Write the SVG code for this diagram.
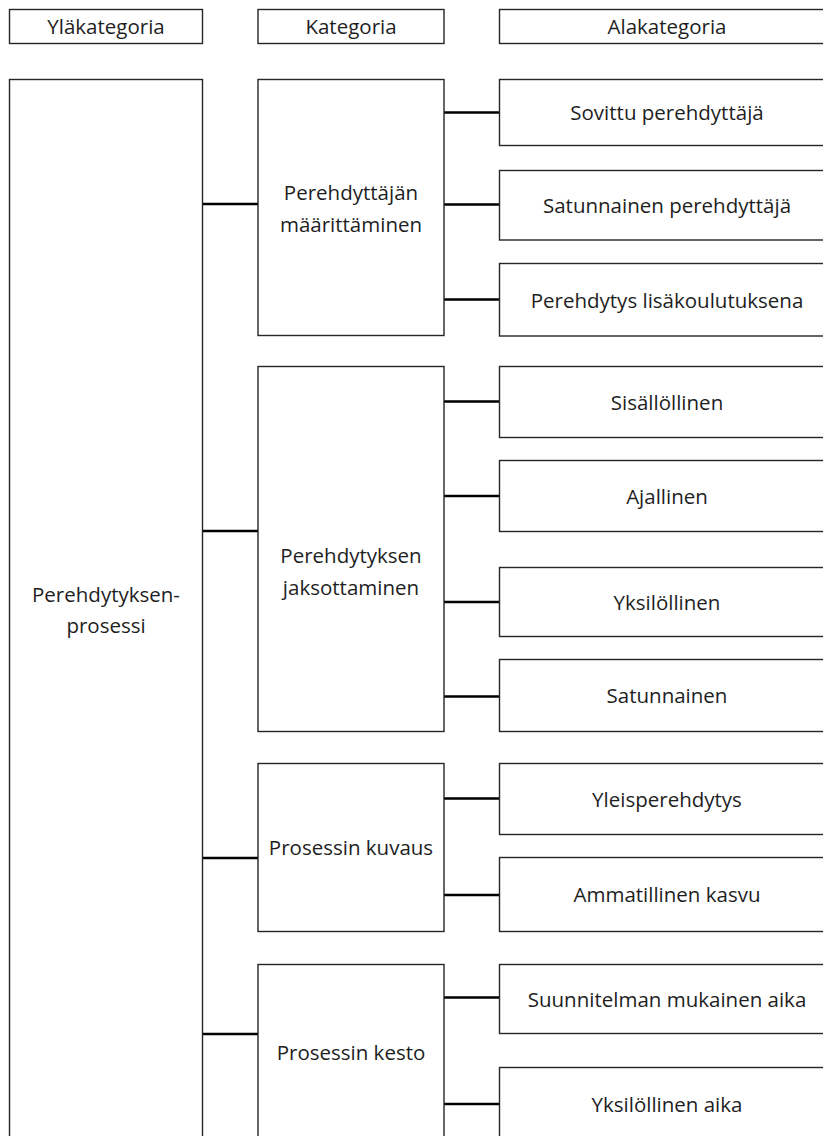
<svg xmlns="http://www.w3.org/2000/svg" width="823" height="1136" viewBox="0 0 823 1136">
<style>
.box{fill:#fff;stroke:#262626;stroke-width:1.4}
.lbl{font-family:"Open Sans","Noto Sans",sans-serif;font-size:20.5px;fill:#1e1e1e;text-anchor:middle}
.conn{stroke:#000;stroke-width:2.6;fill:none}
</style>
<rect width="823" height="1136" fill="#fff"/>
<g id="header">
<g id="h-ylakategoria"><rect class="box" x="9.5" y="9.5" width="193" height="34"/><text class="lbl" x="106" y="33.5">Yläkategoria</text></g>
<g id="h-kategoria"><rect class="box" x="258" y="9.5" width="186" height="34"/><text class="lbl" x="351" y="33.5">Kategoria</text></g>
<g id="h-alakategoria"><rect class="box" x="499.5" y="9.5" width="340" height="34"/><text class="lbl" x="667" y="33.5">Alakategoria</text></g>
</g>
<g id="connectors">
<path class="conn" d="M202.7 204H258M202.7 531H258M202.7 858H258M202.7 1034H258"/>
<path class="conn" d="M444 112.5H499.5M444 204.5H499.5M444 299.5H499.5M444 401.5H499.5M444 496H499.5M444 602H499.5M444 696.5H499.5M444 798.5H499.5M444 895H499.5M444 997.5H499.5M444 1104H499.5"/>
</g>
<g id="n-prosessi"><rect class="box" x="9.5" y="79.5" width="193" height="1062"/><text class="lbl" x="106" y="602">Perehdytyksen-</text><text class="lbl" x="106" y="633">prosessi</text></g>
<g id="n-maarittaminen"><rect class="box" x="258" y="79.5" width="186" height="256"/><text class="lbl" x="351" y="200">Perehdyttäjän</text><text class="lbl" x="351" y="232">määrittäminen</text></g>
<g id="n-jaksottaminen"><rect class="box" x="258" y="366.5" width="186" height="365"/><text class="lbl" x="351" y="563">Perehdytyksen</text><text class="lbl" x="351" y="595">jaksottaminen</text></g>
<g id="n-kuvaus"><rect class="box" x="258" y="763.5" width="186" height="168"/><text class="lbl" x="351" y="855">Prosessin kuvaus</text></g>
<g id="n-kesto"><rect class="box" x="258" y="964.5" width="186" height="180"/><text class="lbl" x="351" y="1059.5">Prosessin kesto</text></g>
<g id="s-sovittu"><rect class="box" x="499.5" y="79.5" width="340" height="66"/><text class="lbl" x="667" y="120">Sovittu perehdyttäjä</text></g>
<g id="s-satunnainen-p"><rect class="box" x="499.5" y="170.5" width="340" height="69.5"/><text class="lbl" x="667" y="212.5">Satunnainen perehdyttäjä</text></g>
<g id="s-lisakoulutus"><rect class="box" x="499.5" y="263.5" width="340" height="72.5"/><text class="lbl" x="667" y="307.5">Perehdytys lisäkoulutuksena</text></g>
<g id="s-sisallollinen"><rect class="box" x="499.5" y="366.5" width="340" height="71"/><text class="lbl" x="667" y="409.5">Sisällöllinen</text></g>
<g id="s-ajallinen"><rect class="box" x="499.5" y="460.5" width="340" height="71"/><text class="lbl" x="667" y="503.5">Ajallinen</text></g>
<g id="s-yksilollinen"><rect class="box" x="499.5" y="567.5" width="340" height="69"/><text class="lbl" x="667" y="609.5">Yksilöllinen</text></g>
<g id="s-satunnainen"><rect class="box" x="499.5" y="659.5" width="340" height="72"/><text class="lbl" x="667" y="703">Satunnainen</text></g>
<g id="s-yleis"><rect class="box" x="499.5" y="763.5" width="340" height="71"/><text class="lbl" x="667" y="806.5">Yleisperehdytys</text></g>
<g id="s-ammatillinen"><rect class="box" x="499.5" y="857.5" width="340" height="74"/><text class="lbl" x="667" y="902">Ammatillinen kasvu</text></g>
<g id="s-suunnitelma"><rect class="box" x="499.5" y="964.5" width="340" height="69"/><text class="lbl" x="667" y="1006.5">Suunnitelman mukainen aika</text></g>
<g id="s-yksilollinen-aika"><rect class="box" x="499.5" y="1067.5" width="340" height="80"/><text class="lbl" x="667" y="1111.5">Yksilöllinen aika</text></g>
</svg>
